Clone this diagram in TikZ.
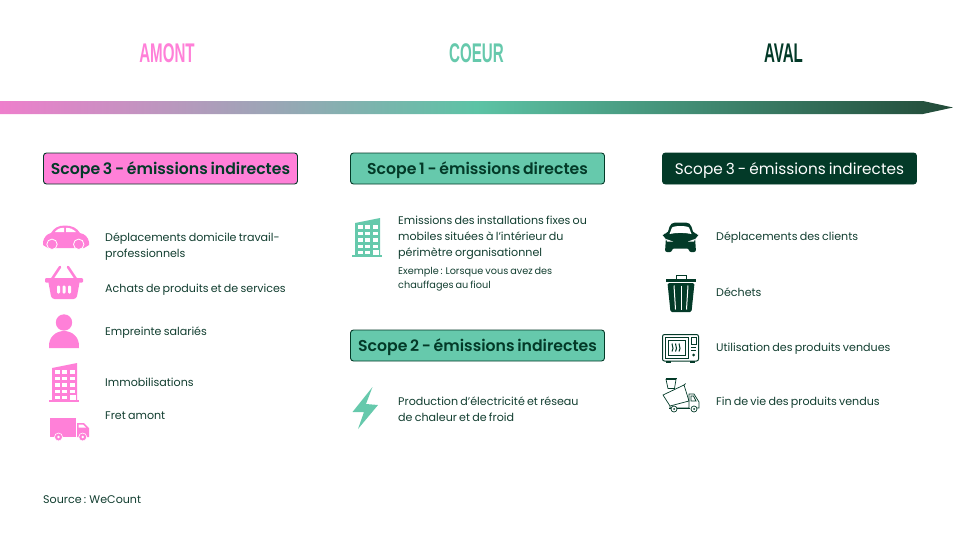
\documentclass[tikz,border=0pt]{standalone}
\usepackage{fontspec}
\setmainfont[WordSpace=0.75]{Poppins}
\newfontfamily\boxfont[WordSpace=0.72]{Poppins SemiBold}
\newfontfamily\headfont[FakeStretch=0.56]{Liberation Sans}
\usepackage{xcolor}
\definecolor{amontpink}{RGB}{255, 128, 216}
\definecolor{barpink}{RGB}{238, 127, 204}
\definecolor{barteal}{RGB}{92, 195, 165}
\definecolor{bardark}{RGB}{34, 74, 56}
\definecolor{coeurteal}{RGB}{102, 201, 172}
\definecolor{avaldark}{RGB}{3, 58, 40}
\definecolor{bodydark}{RGB}{18, 62, 48}
\usetikzlibrary{positioning, calc}
\tikzset{
    headlabel/.style={font=\headfont\bfseries\fontsize{27}{27}\selectfont, inner sep=0pt},
    scopebox/.style={draw=avaldark, rounded corners=3pt, line width=0.9pt, minimum width=254pt, minimum height=31pt,
        inner sep=0pt, text height=11pt, text depth=0pt, text=avaldark, font=\boxfont\fontsize{15.7}{18}\selectfont},
    itemtext/.style={anchor=west, align=left, inner sep=0pt, text=bodydark, font=\fontsize{11.1}{16}\selectfont},
    smalltext/.style={anchor=west, align=left, inner sep=0pt, text=bodydark, font=\fontsize{9.7}{14.5}\selectfont},
    hole/.style={fill=white, draw=none},
}
% icons: origin is the top left corner of the icon
\newcommand{\buildingicon}[2]{
    \begin{scope}[shift={(#1)}]
        \fill[#2] (3,5) -- (28,0) -- (28,37) -- (3,37) -- cycle;
        \fill[#2] (0,37) rectangle (30,39);
        \foreach \row in {7,13.5,20,26.5} {
            \foreach \col in {6,13.3,21} {
                \fill[hole] (\col,\row) rectangle ++(4.8,3.6);
            }
        }
        \fill[hole] (6,33) rectangle ++(4.8,3);
        \fill[hole] (13.3,33) rectangle ++(4.8,3);
        \fill[hole] (21,31.5) rectangle (26.5,37);
    \end{scope}
}
\begin{document}
\begin{tikzpicture}[x=1pt, y=-1pt]
    \useasboundingbox (0,0) rectangle (953,535);

    % titles
    \node[headlabel, text=amontpink] (amont) at (167,53.5) {AMONT};
    \node[headlabel, text=coeurteal] (coeur) at (476.5,53.5) {COEUR};
    \node[headlabel, text=avaldark] (aval) at (783.5,53.5) {AVAL};

    % arrow
    \shade[left color=barpink, right color=bardark, middle color=barteal]
        (0,101) -- (923,101) -- (953,107.5) -- (923,114) -- (0,114) -- cycle;

    % scope boxes
    \node[scopebox, fill=amontpink] (scopeA) at (170.5,168.5) {Scope 3 - émissions indirectes};
    \node[scopebox, fill=coeurteal] (scopeB) at (477.5,168.5) {Scope 1 - émissions directes};
    \node[scopebox, fill=coeurteal] (scopeC) at (477.5,345.5) {Scope 2 - émissions indirectes};
    \node[scopebox, fill=avaldark, text=white, font=\fontsize{15.3}{18}\selectfont] (scopeD) at (789.5,168.5) {Scope 3 - émissions indirectes};

    % left column
    \node[itemtext] (itemA) at (105,247) {Déplacements domicile travail-\\professionnels};
    \node[itemtext] (itemB) at (105,290) {Achats de produits et de services};
    \node[itemtext] (itemC) at (105,333) {Empreinte salariés};
    \node[itemtext] (itemD) at (105,382) {Immobilisations};
    \node[itemtext] (itemE) at (105,416) {Fret amont};
    \node[itemtext] (source) at (43,500) {Source : WeCount};

    % middle column
    \node[itemtext] (itemF) at (398,238) {Emissions des installations fixes ou\\mobiles situées à l'intérieur du\\périmètre organisationnel};
    \node[smalltext] (itemG) at (398,279) {Exemple : Lorsque vous avez des\\chauffages au fioul};
    \node[itemtext] (itemH) at (398,409) {Production d'électricité et réseau\\de chaleur et de froid};

    % right column
    \node[itemtext] (itemI) at (716,238) {Déplacements des clients};
    \node[itemtext] (itemJ) at (716,292) {Déchets};
    \node[itemtext] (itemK) at (716,349) {Utilisation des produits vendues};
    \node[itemtext] (itemL) at (716,403) {Fin de vie des produits vendus};

    % pink car
    \begin{scope}[shift={(43,225)}]
        \fill[amontpink] (0,17) .. controls (1,12) and (4,9) .. (8,8) .. controls (11,3) and (15,0.5) .. (22,0.5)
            .. controls (29,0.5) and (34,3) .. (37,8) .. controls (42,9) and (45,12) .. (46,17) -- (46,20) -- (41,23) -- (5,23) -- (0,20) -- cycle;
        \fill[hole] (12,7) .. controls (14,4) and (17,2.8) .. (21,2.8) -- (21,7) -- cycle;
        \fill[hole] (23,2.8) .. controls (27,2.8) and (30,4) .. (33,7) -- (23,7) -- cycle;
        \fill[amontpink, draw=white, line width=0.8pt] (9,19.3) circle (5.2);
        \fill[amontpink, draw=white, line width=0.8pt] (35.7,19.3) circle (5.2);
    \end{scope}

    % pink basket
    \begin{scope}[shift={(45,265)}]
        \draw[amontpink, line width=2.6pt, line cap=round] (7,14) -- (15,2);
        \draw[amontpink, line width=2.6pt, line cap=round] (31,14) -- (23,2);
        \fill[amontpink, rounded corners=1pt] (0,13) rectangle (38,17.5);
        \fill[amontpink, rounded corners=3pt] (3,15) -- (35,15) -- (31.5,34) -- (6.5,34) -- cycle;
        \foreach \slot in {12,17.5,23} {
            \fill[hole, rounded corners=1.2pt] (\slot,20.5) rectangle ++(3,8);
        }
    \end{scope}

    % pink person
    \fill[amontpink] (64,322.5) circle (8.2);
    \fill[amontpink] (49,348) .. controls (48,337) and (56,331) .. (64,331) .. controls (72,331) and (80,337) .. (79,348) -- cycle;

    % buildings
    \buildingicon{49,363}{amontpink}
    \buildingicon{352,218}{coeurteal}

    % pink truck
    \fill[amontpink] (50,418) rectangle (75.7,437);
    \fill[amontpink] (77,423) -- (84,423) -- (89,428) -- (89,437) -- (77,437) -- cycle;
    \fill[hole] (78.5,424.5) -- (83,424.5) -- (86,427.5) -- (78.5,427.5) -- cycle;
    \foreach \wheel in {58.5,82.7} {
        \fill[amontpink, draw=white, line width=0.6pt] (\wheel,437) circle (4);
        \fill[hole] (\wheel,437) circle (1.4);
    }

    % bolt
    \fill[coeurteal] (372.5,387) -- (352.5,412) -- (364,412) -- (358,429) -- (378,405) -- (366,404) -- cycle;

    % dark car
    \begin{scope}[shift={(662,222)}]
        \fill[avaldark, rounded corners=2pt] (1,11.5) -- (5.5,11.5) -- (8,3) -- (11,0.5) -- (26,0.5) -- (29,3) -- (31.5,11.5) -- (36,11.5) -- (36.5,14.5) -- (33,15)
            -- (34,30) -- (27,30) -- (27,26.5) -- (10,26.5) -- (10,30) -- (3,30) -- (4,15) -- (0.5,14.5) -- cycle;
        \fill[hole] (7.5,12) -- (10,5.5) .. controls (13,3.5) and (24,3.5) .. (27,5.5) -- (29.5,12) .. controls (22,10.5) and (15,10.5) .. (7.5,12) -- cycle;
        \fill[hole] (4,17) -- (11,19.5) -- (5,19.5) -- cycle;
        \fill[hole] (33,17) -- (26,19.5) -- (32,19.5) -- cycle;
    \end{scope}

    % trash
    \begin{scope}[shift={(666,275)}]
        \draw[avaldark, line width=1pt] (10,4.5) -- (10,0.5) -- (20,0.5) -- (20,4.5);
        \fill[avaldark] (0,4) rectangle (30,6.5);
        \fill[avaldark, rounded corners=1.5pt] (1.5,8) -- (28.5,8) -- (25.5,37) -- (4.5,37) -- cycle;
        \draw[white, line width=1pt] (8,10.5) -- (9.5,34.5);
        \draw[white, line width=1pt] (15,10.5) -- (15,34.5);
        \draw[white, line width=1pt] (22,10.5) -- (20.5,34.5);
    \end{scope}

    % microwave
    \begin{scope}[shift={(662,334)}, avaldark]
        \draw[line width=1pt, rounded corners=2pt] (0.5,0.5) rectangle (36.5,27);
        \draw[line width=0.8pt] (3,3) rectangle (26,24);
        \draw[line width=0.8pt] (6,6) rectangle (23,21);
        \draw[line width=0.8pt] (29,3) rectangle (34,10);
        \draw[line width=0.8pt] (29,13) -- (34,13);
        \draw[line width=0.8pt] (29,16) -- (34,16);
        \fill (31.5,21) circle (1.5);
        \fill (4,27) rectangle (9,29);
        \fill (28,27) rectangle (33,29);
        \foreach \coil in {10,13.5,17} {
            \draw[line width=1pt] (\coil,9.5) .. controls (\coil+2,11) and (\coil-1,13) .. (\coil+1,14.5) .. controls (\coil+2,15.5) and (\coil-1,16.5) .. (\coil,17.5);
        }
    \end{scope}

    % dump truck
    \begin{scope}[shift={(663,378)}, avaldark, line width=0.7pt]
        \draw (3,1.5) -- (13,1.5) -- (11.5,10.5) -- (5,10.5) -- cycle;
        \draw (2.5,0.5) -- (13.5,0.5);
        \draw (0,17) -- (21,7) -- (26,23) -- (7,28) -- cycle;
        \draw (21,7) -- (22.5,5.5);
        \draw (7,28) -- (7,30) -- (26,30) -- (26,16) -- (31,16) -- (36,24) -- (36,30) -- (33,30);
        \draw (28,18) -- (30.5,18) -- (33,23) -- (28,23) -- cycle;
        \fill (6,29.5) rectangle (27,31);
        \draw[fill=white] (11,31) circle (3);
        \draw[fill=white] (31,31) circle (3);
        \fill (11,31) circle (1);
        \fill (31,31) circle (1);
    \end{scope}
\end{tikzpicture}
\end{document}
